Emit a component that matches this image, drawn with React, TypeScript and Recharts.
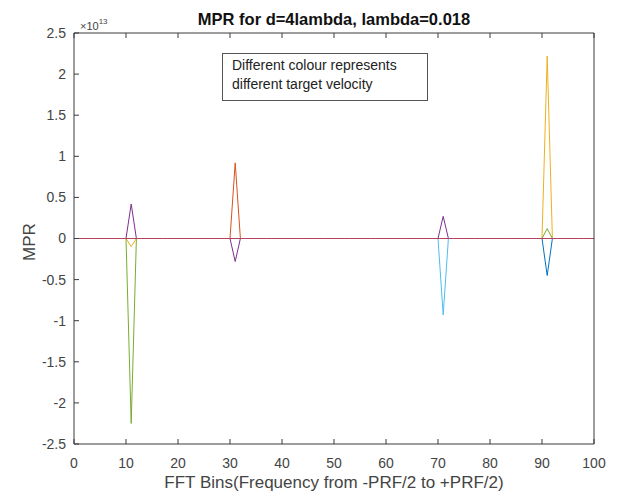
import { LineChart, Line, XAxis, YAxis } from 'recharts'

// FFT bin numbers on the x axis
const bins = Array.from({ length: 100 }, (_, i) => i + 1)
const xTicks = [0, 10, 20, 30, 40, 50, 60, 70, 80, 90, 100]
const yTicks = [-2.5, -2, -1.5, -1, -0.5, 0, 0.5, 1, 1.5, 2, 2.5]
const EXP = 1e13

// non-zero MPR values per velocity, [bin, value x 1e13]; every other bin is 0
const blueSpikes = [[91, -0.45]]
const orangeSpikes = [[31, 0.92]]
const yellowSpikes = [[11, -0.1], [91, 2.22]]
const purpleSpikes = [[11, 0.42], [31, -0.28], [71, 0.27]]
const greenSpikes = [[11, -2.25], [91, 0.12]]
const cyanSpikes = [[71, -0.93]]
const redSpikes: number[][] = []

const series = [
  { key: 'v1', color: '#0072BD', spikes: blueSpikes },
  { key: 'v2', color: '#D95319', spikes: orangeSpikes },
  { key: 'v3', color: '#EDB120', spikes: yellowSpikes },
  { key: 'v4', color: '#7E2F8E', spikes: purpleSpikes },
  { key: 'v5', color: '#77AC30', spikes: greenSpikes },
  { key: 'v6', color: '#4DBEEE', spikes: cyanSpikes },
  { key: 'v7', color: '#B8405A', spikes: redSpikes },
]

const data = bins.map((bin) => {
  const row: Record<string, number> = { bin }
  series.forEach((s) => {
    const hit = s.spikes.find((p) => p[0] === bin)
    row[s.key] = hit ? hit[1] * EXP : 0
  })
  return row
})

const font = '"Liberation Sans", Arial, Helvetica, sans-serif'
const axisColor = '#3a3a3a'
const textColor = '#444'
const TICK = 5
const X_MARGIN = 14
const Y_MARGIN = 8

// ticks point into the plot box, matlab style
function BottomTick(props: any) {
  const { x, y, payload } = props
  const axisY = y - X_MARGIN
  return (
    <g>
      <line x1={x} x2={x} y1={axisY} y2={axisY - TICK} stroke={axisColor} />
      <text x={x} y={y} dy="0.71em" textAnchor="middle" fontSize={14} fontFamily={font} fill={textColor}>
        {payload.value}
      </text>
    </g>
  )
}

function LeftTick(props: any) {
  const { x, y, payload } = props
  const axisX = x + Y_MARGIN
  return (
    <g>
      <line x1={axisX} x2={axisX + TICK} y1={y} y2={y} stroke={axisColor} />
      <text x={x} y={y} dy="0.355em" textAnchor="end" fontSize={14} fontFamily={font} fill={textColor}>
        {`${+(payload.value / EXP).toFixed(1)}`}
      </text>
    </g>
  )
}

function TopTick(props: any) {
  const { x, y } = props
  return <line x1={x} x2={x} y1={y} y2={y + TICK} stroke={axisColor} />
}

function RightTick(props: any) {
  const { x, y } = props
  return <line x1={x} x2={x - TICK} y1={y} y2={y} stroke={axisColor} />
}

export default function App() {
  return (
    <div
      style={{
        position: 'absolute',
        left: 0,
        top: 0,
        width: 621,
        height: 497,
        background: '#fff',
        fontFamily: font,
      }}
    >
      <LineChart
        width={621}
        height={497}
        data={data}
        margin={{ top: 32, right: 26, left: 0, bottom: 0 }}
      >
        <XAxis
          dataKey="bin"
          type="number"
          domain={[0, 100]}
          ticks={xTicks}
          height={53}
          tickSize={0}
          tickMargin={X_MARGIN}
          tickLine={false}
          tick={<BottomTick />}
          stroke={axisColor}
        />
        <XAxis
          xAxisId="top"
          orientation="top"
          dataKey="bin"
          type="number"
          domain={[0, 100]}
          ticks={xTicks}
          height={1}
          tickSize={0}
          tickMargin={0}
          tickLine={false}
          tick={<TopTick />}
          stroke={axisColor}
        />
        <YAxis
          type="number"
          domain={[-2.5 * EXP, 2.5 * EXP]}
          ticks={yTicks.map((t) => t * EXP)}
          width={74}
          tickSize={0}
          tickMargin={Y_MARGIN}
          tickLine={false}
          tick={<LeftTick />}
          stroke={axisColor}
          allowDataOverflow
        />
        <YAxis
          yAxisId="right"
          orientation="right"
          type="number"
          domain={[-2.5 * EXP, 2.5 * EXP]}
          ticks={yTicks.map((t) => t * EXP)}
          width={1}
          tickSize={0}
          tickMargin={0}
          tickLine={false}
          tick={<RightTick />}
          stroke={axisColor}
        />
        {series.map((s) => (
          <Line
            key={s.key}
            dataKey={s.key}
            stroke={s.color}
            strokeWidth={1}
            dot={false}
            activeDot={false}
            isAnimationActive={false}
          />
        ))}
      </LineChart>

      <div
        style={{
          position: 'absolute',
          left: 74,
          width: 520,
          top: 9,
          textAlign: 'center',
          fontSize: 16.5,
          lineHeight: '20px',
          fontWeight: 'bold',
          color: '#111',
        }}
      >
        MPR for d=4lambda, lambda=0.018
      </div>
      <div style={{ position: 'absolute', left: 80, top: 20, fontSize: 11, color: textColor }}>
        ×10<sup style={{ fontSize: 8, verticalAlign: 'top', position: 'relative', top: -3 }}>13</sup>
      </div>
      <div
        style={{
          position: 'absolute',
          left: 222,
          top: 53,
          width: 206,
          height: 48,
          border: '1px solid #555',
          background: '#fff',
          fontSize: 14,
          lineHeight: '19px',
          color: '#222',
          padding: '2px 0 0 9px',
          boxSizing: 'border-box',
          whiteSpace: 'nowrap',
        }}
      >
        Different colour represents
        <br />
        different target velocity
      </div>
      <div
        style={{
          position: 'absolute',
          left: 74,
          width: 520,
          top: 473,
          textAlign: 'center',
          fontSize: 17,
          lineHeight: '20px',
          color: textColor,
        }}
      >
        FFT Bins(Frequency from -PRF/2 to +PRF/2)
      </div>
      <div
        style={{
          position: 'absolute',
          left: 30,
          top: 242,
          fontSize: 17,
          color: textColor,
          transform: 'translate(-50%, -50%) rotate(-90deg)',
          whiteSpace: 'nowrap',
        }}
      >
        MPR
      </div>
    </div>
  )
}
